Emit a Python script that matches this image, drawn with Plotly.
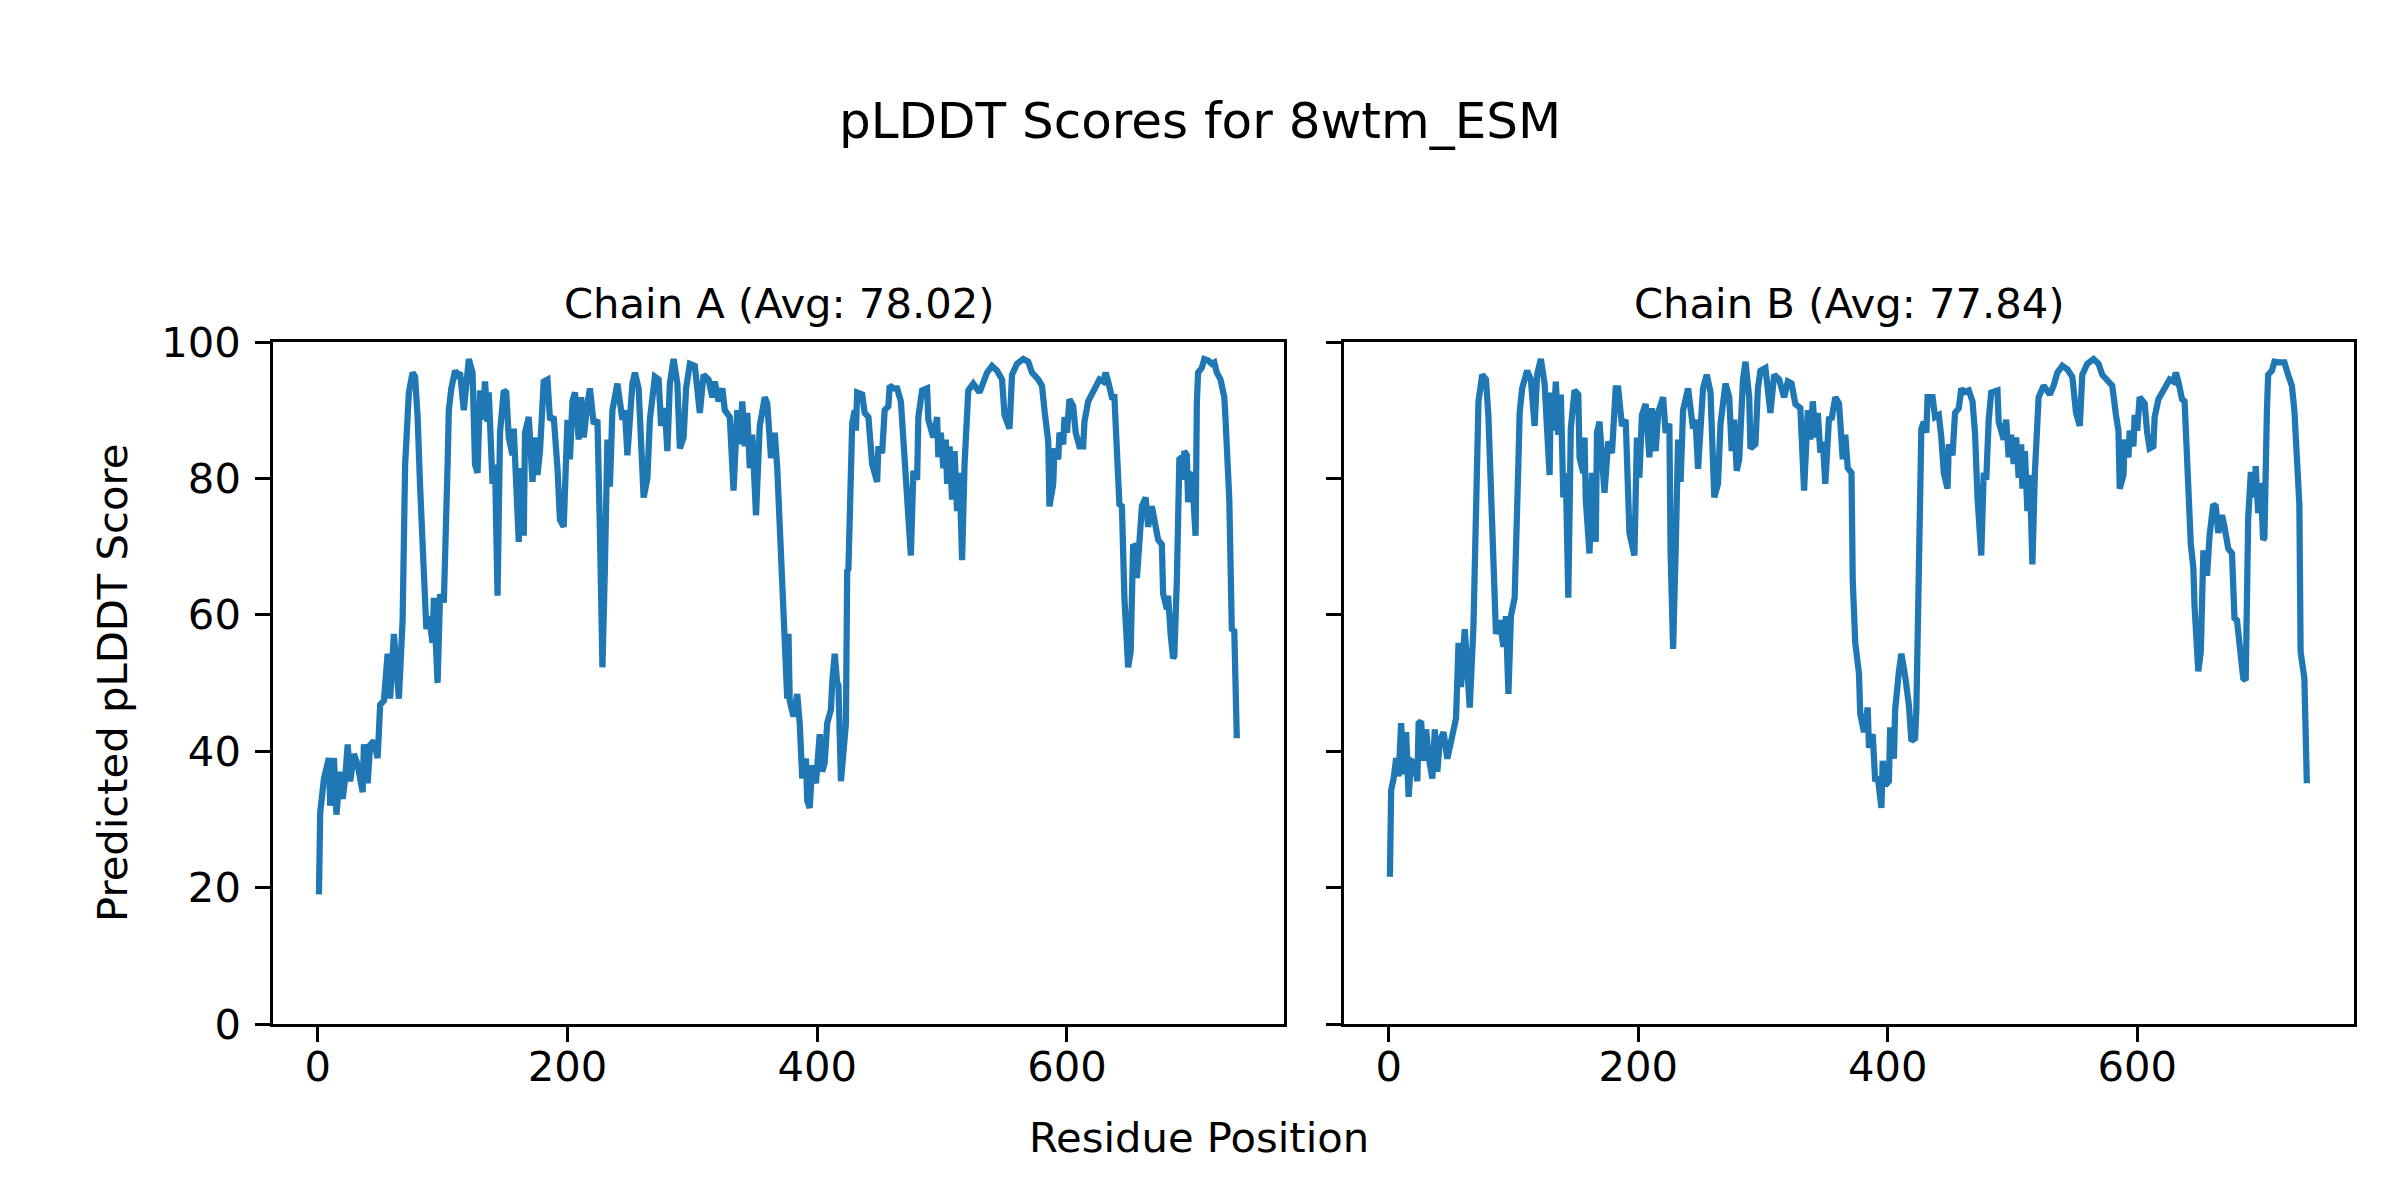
import plotly.graph_objects as go

# ---------------- data ----------------
chain_a_pos = [1, 2, 5, 6, 9, 10, 13, 15, 18, 20, 22, 24, 26, 29, 32, 36, 37, 40, 42, 45, 48, 50, 53, 56, 58, 61, 63, 65, 68,
               70, 73, 76, 78, 80, 82, 85, 87, 89, 92, 93, 96, 98, 101, 104, 105, 107, 110, 112, 114, 117, 119, 121, 124,
               126, 128, 130, 132, 134, 136, 137, 140, 142, 144, 146, 149, 151, 153, 156, 157, 159, 161, 162, 165, 166,
               169, 172, 174, 176, 178, 181, 184, 186, 189, 192, 194, 197, 200, 202, 204, 206, 209, 211, 213, 216, 218,
               221, 224, 226, 228, 230, 232, 234, 236, 240, 244, 246, 248, 252, 254, 257, 261, 264, 266, 270, 273, 275,
               278, 280, 282, 285, 288, 290, 293, 295, 298, 302, 306, 309, 313, 316, 318, 321, 324, 326, 330, 333, 336,
               338, 340, 342, 344, 346, 348, 351, 354, 358, 360, 363, 366, 368, 370, 372, 374, 376, 377, 378, 381, 384,
               386, 388, 391, 392, 394, 396, 399, 402, 404, 406, 408, 411, 412, 414, 416, 417, 419, 423, 424, 425, 428,
               430, 431, 432, 436, 438, 441, 444, 448, 449, 452, 454, 457, 458, 461, 464, 467, 469, 472, 475, 477, 480,
               481, 484, 488, 489, 493, 496, 497, 499, 501, 503, 504, 506, 508, 510, 512, 514, 516, 518, 521, 525, 530,
               533, 536, 540, 544, 548, 550, 554, 556, 560, 565, 569, 572, 577, 580, 582, 585, 586, 589, 590, 593, 594,
               597, 598, 600, 602, 605, 607, 610, 613, 614, 617, 622, 626, 629, 631, 633, 636, 638, 640, 642, 644, 646,
               649, 651, 653, 655, 656, 658, 660, 663, 665, 668, 670, 673, 676, 677, 680, 681, 683, 685, 686, 688, 689,
               690, 692, 693, 694, 696, 697, 698, 700, 702, 703, 704, 705, 708, 710, 713, 716, 718, 720, 723, 726, 727,
               728, 730, 732, 734, 736]
chain_a_plddt = [19, 31, 36, 36.6, 39, 32, 39, 30.7, 37, 33, 36, 41, 35.6, 39.6, 38, 34, 41, 35.3, 40.9, 41.5, 39, 46.8,
                 47.4, 54.3, 47.7, 57.2, 51.3, 47.7, 59.2, 82, 92.6, 95.5, 94.9, 89, 78.8, 65.7, 57.9, 59.8, 55.9, 62.5,
                 50, 63, 61.8, 82, 90, 93.2, 95.8, 95.2, 95.5, 90, 95.2, 97.5, 95.5, 82, 80.8, 92.9, 88.6, 94.2, 88.3,
                 92.6, 79.2, 82, 62.8, 86.7, 92.9, 92.6, 86, 83.4, 87.3, 77.5, 70.7, 81.5, 71.6, 86.7, 89, 79.5, 86,
                 80.5, 84, 94.2, 94.5, 88.6, 89, 81.5, 73.9, 72.9, 88.6, 82.8, 91.3, 92.6, 85.7, 91.9, 86, 90.9, 93.2,
                 88, 88.6, 72.3, 52.3, 67, 85.7, 78.8, 90, 93.9, 88.6, 90, 83.4, 93.9, 95.5, 93.2, 77.2, 80, 88.6, 94.9,
                 94.5, 87.7, 90.3, 84, 93.9, 97.5, 93.9, 84.4, 86, 93.2, 96.8, 96.5, 89.6, 95.2, 94.5, 91.9, 94.2, 91.3,
                 93.2, 90, 89, 78.2, 90, 85, 91.3, 84.7, 89.6, 81.5, 86.4, 74.6, 87.7, 91.9, 91, 83, 86.7, 81.5, 72.3,
                 62.5, 57.2, 47.7, 57.2, 47.4, 45.1, 48.4, 44.1, 36, 38.9, 32.7, 31.7, 37.9, 35.3, 42.5, 37, 38.3, 44.1,
                 46.1, 50, 54.3, 50, 49.7, 35.6, 44.1, 66.4, 66.7, 88, 90, 87, 92.6, 92.3, 89.6, 89, 82.1, 79.5, 84.7,
                 83.7, 90, 90.6, 93.6, 93.2, 93.2, 91.3, 86, 75.6, 68.7, 81.1, 79.8, 89, 92.9, 93.2, 88.6, 86, 89, 83.1,
                 86.7, 81.5, 85.7, 79.2, 84.7, 76.9, 84, 75.2, 80.8, 68, 82.1, 92.9, 93.9, 92.6, 93.9, 95.5, 96.5, 95.8,
                 94.5, 89.3, 87.3, 95.2, 96.8, 97.5, 97.1, 95.5, 94.5, 93.6, 90, 85.4, 75.9, 79.2, 84.4, 82.8, 86.7, 85,
                 89, 86.7, 91.6, 90.6, 86.7, 84.7, 84.7, 88.3, 91.3, 93.2, 94.5, 94.2, 95.5, 94.2, 91.9, 91.9, 84.7,
                 76.2, 75.9, 62.5, 52.3, 54.6, 70.3, 70, 65.4, 72.3, 75.9, 77.2, 72.9, 75.9, 74.3, 71, 70.3, 63.1, 60.8,
                 62.8, 57.2, 53.6, 54, 65.1, 73.6, 82.8, 83.1, 79.8, 84, 83.4, 76.5, 80.5, 80.8, 72, 71.6, 91, 95.5,
                 96.2, 97.5, 97.3, 96.8, 97, 95.5, 94.5, 91.9, 88.6, 83.4, 76.9, 57.9, 57.6, 41.9]

chain_b_pos = [1, 2, 4, 6, 8, 10, 12, 14, 16, 18, 21, 23, 24, 26, 28, 30, 32, 35, 37, 39, 41, 44, 47, 49, 52, 54, 56, 58,
               61, 63, 65, 68, 70, 72, 75, 78, 80, 82, 85, 86, 89, 92, 94, 96, 98, 101, 104, 105, 107, 111, 114, 117, 119,
               122, 125, 128, 129, 130, 132, 134, 136, 138, 140, 142, 144, 146, 149, 152, 153, 156, 157, 158, 161, 163,
               166, 167, 169, 173, 176, 179, 182, 184, 187, 190, 192, 193, 197, 199, 201, 203, 206, 209, 211, 214, 216,
               220, 222, 225, 226, 228, 230, 232, 234, 236, 240, 244, 246, 248, 252, 255, 258, 261, 264, 266, 270, 273,
               275, 277, 279, 281, 284, 286, 289, 290, 294, 296, 298, 302, 306, 309, 313, 317, 320, 323, 326, 330, 333,
               336, 338, 340, 342, 344, 346, 348, 350, 353, 355, 358, 361, 364, 366, 368, 371, 372, 374, 377, 378, 381,
               384, 385, 388, 390, 392, 395, 396, 398, 401, 402, 405, 406, 409, 411, 414, 417, 419, 422, 423, 425, 427,
               429, 431, 432, 436, 438, 441, 443, 445, 448, 449, 452, 454, 457, 459, 461, 465, 468, 470, 472, 475, 477,
               479, 481, 483, 488, 489, 493, 495, 497, 499, 501, 503, 505, 507, 508, 510, 512, 514, 516, 518, 521, 525,
               530, 533, 536, 540, 544, 548, 551, 554, 556, 560, 565, 569, 572, 577, 580, 583, 585, 586, 589, 590, 593,
               594, 597, 598, 600, 602, 606, 608, 610, 613, 614, 617, 622, 626, 629, 631, 633, 636, 638, 640, 642, 643,
               645, 646, 649, 651, 653, 655, 656, 658, 661, 663, 665, 668, 670, 673, 676, 678, 680, 682, 685, 687, 688,
               689, 691, 693, 694, 695, 697, 698, 699, 701, 702, 704, 705, 708, 710, 714, 718, 721, 724, 726, 728, 730,
               731, 734, 736]
chain_b_plddt = [21.6, 34.3, 36, 39, 36.3, 44.1, 36.6, 42.8, 33.3, 38.6, 38.3, 35.6, 44.1, 44.4, 38.6, 43.2, 39.2, 36,
                 43.2, 37, 41.5, 42.8, 38.9, 40.5, 43.8, 44.8, 55.9, 49.4, 57.9, 50, 46.4, 58.5, 79.5, 91.3, 95.2, 94.5,
                 89, 76.2, 64.4, 57.2, 59.2, 55.3, 59.8, 48.4, 59.8, 62.5, 82.4, 89.6, 93.2, 95.8, 94.5, 87.7, 95.2,
                 97.5, 93.9, 80.5, 80.5, 92.6, 87, 94.2, 86.4, 92.3, 77.2, 80.8, 62.5, 87.3, 92.9, 92.3, 83.1, 80.8, 86,
                 76.9, 69, 80.8, 70.7, 86.7, 88.3, 77.9, 85.4, 83.7, 93.2, 93.2, 87.7, 88.6, 80.1, 72, 68.7, 86, 80.1,
                 89.3, 90.9, 83.1, 90.3, 84, 89.6, 91.9, 86.7, 88, 69, 55, 69, 85.7, 79.5, 90, 93.2, 87.3, 88.6, 81.4,
                 93.2, 95.2, 92.6, 77.2, 79.2, 88, 93.9, 91.9, 84, 88.6, 81.1, 82.8, 94.5, 97.1, 91.9, 84.4, 85, 93.2,
                 95.8, 96.2, 89.6, 95.2, 94.5, 91.9, 94.2, 93.9, 90.9, 90.3, 78.2, 90, 85.7, 91.3, 86, 89.6, 83.8, 85.4,
                 79.2, 89, 88.6, 91.9, 91, 82.8, 86.4, 81.5, 80.8, 65.1, 55.9, 51.4, 45.5, 42.8, 46.4, 40.5, 42.5, 35.6,
                 36.3, 31.7, 38.6, 35, 35.6, 43.5, 38.9, 46.1, 51.7, 54.3, 51, 46.8, 41.5, 41.9, 46.1, 68.4, 87.3, 88.3,
                 86.7, 91.9, 91.9, 89, 89.3, 86, 80.8, 78.5, 85, 83.4, 89.6, 90.3, 93.2, 92.6, 92.9, 91.3, 86.7, 77.2,
                 68.7, 80.8, 79.8, 88.6, 92.6, 92.9, 88.3, 85.7, 88.6, 83.1, 86.4, 82.1, 86, 80.1, 85, 78.5, 84, 75.2,
                 80.5, 67.4, 80.8, 91.9, 93.6, 92.3, 93.6, 95.5, 96.5, 96, 94.9, 89.6, 87.7, 95.2, 96.8, 97.5, 96.8,
                 95.2, 94.2, 93.6, 89.3, 87, 78.5, 80.5, 85.7, 83.1, 87, 84.7, 89.3, 87, 91.9, 91, 86.7, 84.4, 84.7, 89,
                 91.6, 93.2, 94.5, 94.2, 95.5, 94.2, 91.6, 91.3, 83.7, 72.6, 70.3, 67, 61.2, 51.7, 54.6, 69, 69, 65.7,
                 71.6, 76.2, 75.9, 72, 74.6, 72.9, 69.7, 69, 59.5, 59.2, 55.3, 50.7, 50.4, 61.2, 74.2, 80.5, 80.5, 77.2,
                 81.8, 74.9, 79.2, 78.8, 71, 71.3, 90, 95.2, 95.8, 97.1, 97, 97, 95.2, 93.6, 90, 82.1, 76.2, 54.6, 50.7,
                 35.3]

chain_titles = ["Chain A (Avg: 78.02)", "Chain B (Avg: 77.84)"]
x_tick_vals = [0, 200, 400, 600]
y_tick_vals = [0, 20, 40, 60, 80, 100]
suptitle = "pLDDT Scores for 8wtm_ESM"
x_label = "Residue Position"
y_label = "Predicted pLDDT Score"

# ---------------- figure ----------------
W, H = 2400, 1200
OFF = 8  # page body margin compensation (px)
FONT = "DejaVu Sans"
LINE_COLOR = "#1f77b4"
FS = 41.7     # 10 pt at 300 dpi
FS_TITLE = 50  # 12 pt at 300 dpi


def px_x(px):
    return (px - OFF) / W


def px_y(px):
    return 1 - (px - OFF) / H


fig = go.Figure()
fig.add_trace(go.Scatter(x=chain_a_pos, y=chain_a_plddt, mode="lines",
                         line=dict(color=LINE_COLOR, width=6.25), xaxis="x", yaxis="y",
                         showlegend=False))
fig.add_trace(go.Scatter(x=chain_b_pos, y=chain_b_plddt, mode="lines",
                         line=dict(color=LINE_COLOR, width=6.25), xaxis="x2", yaxis="y2",
                         showlegend=False))

x_left = [px_x(273), px_x(1284)]
x_right = [px_x(1344), px_x(2354)]
y_dom = [px_y(1024), px_y(342)]
x_range = [-35.8, 773.8]

axis_common = dict(
    showline=True, linecolor="black", linewidth=3.3, mirror=True,
    ticks="outside", ticklen=14.6, tickwidth=3.3, tickcolor="black",
    showgrid=False, zeroline=False, automargin=False,
    tickfont=dict(family=FONT, size=FS, color="black"),
)

fig.update_layout(
    template="none",
    width=W, height=H, autosize=False,
    margin=dict(l=0, r=0, t=0, b=0, pad=0),
    paper_bgcolor="white", plot_bgcolor="white",
    font=dict(family=FONT, color="black"),
    xaxis=dict(domain=x_left, range=x_range, tickvals=x_tick_vals, anchor="y",
               ticklabelstandoff=-11, **axis_common),
    yaxis=dict(domain=y_dom, range=[0, 100], tickvals=y_tick_vals, anchor="x",
               ticklabelstandoff=6, **axis_common),
    xaxis2=dict(domain=x_right, range=x_range, tickvals=x_tick_vals, anchor="y2",
                ticklabelstandoff=-11, **axis_common),
    yaxis2=dict(domain=y_dom, range=[0, 100], tickvals=y_tick_vals, anchor="x2",
                showticklabels=False, **axis_common),
)

annotations = [
    dict(text=suptitle, x=px_x(1200), y=px_y(121), xref="paper", yref="paper",
         xanchor="center", yanchor="middle", showarrow=False,
         font=dict(family=FONT, size=FS_TITLE, color="black")),
    dict(text=chain_titles[0], x=sum(x_left) / 2, y=px_y(303), xref="paper", yref="paper",
         xanchor="center", yanchor="middle", showarrow=False,
         font=dict(family=FONT, size=FS, color="black")),
    dict(text=chain_titles[1], x=sum(x_right) / 2, y=px_y(303), xref="paper", yref="paper",
         xanchor="center", yanchor="middle", showarrow=False,
         font=dict(family=FONT, size=FS, color="black")),
    dict(text=x_label, x=px_x(1199), y=px_y(1137), xref="paper", yref="paper",
         xanchor="center", yanchor="middle", showarrow=False,
         font=dict(family=FONT, size=FS, color="black")),
    dict(text=y_label, x=px_x(112), y=px_y(683), xref="paper", yref="paper",
         xanchor="center", yanchor="middle", showarrow=False, textangle=-90,
         font=dict(family=FONT, size=FS, color="black")),
]
fig.update_layout(annotations=annotations)

fig.write_html("out.html")
